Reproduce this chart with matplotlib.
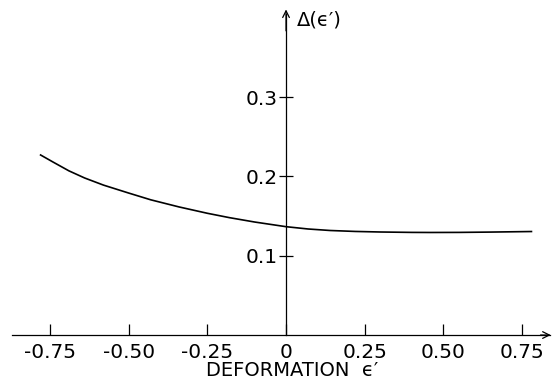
import numpy as np
import matplotlib.pyplot as plt

# curve
eps = [-0.78, -0.74, -0.69, -0.64, -0.58, -0.50, -0.43, -0.34, -0.25, -0.18,
       -0.10, 0.0, 0.07, 0.14, 0.22, 0.30, 0.40, 0.46, 0.55, 0.65, 0.78]
delta = [0.227, 0.218, 0.207, 0.198, 0.189, 0.179, 0.1705, 0.1615, 0.1535, 0.148,
         0.1425, 0.1366, 0.1337, 0.1318, 0.1306, 0.1299, 0.1294, 0.1293, 0.1294, 0.1298, 0.1305]

xticks = [-0.75, -0.50, -0.25, 0, 0.25, 0.50, 0.75]
xticklabels = ['-0.75', '-0.50', '-0.25', '0', '0.25', '0.50', '0.75']
yticks = [0.1, 0.2, 0.3]
yticklabels = ['0.1', '0.2', '0.3']

plt.rcParams['font.family'] = ['DejaVu Sans']

fig = plt.figure(figsize=(5.56, 3.85), dpi=100)
ax = fig.add_axes([0, 0, 1, 1])
ax.set_xlim(-0.909, 0.858)
ax.set_ylim(-0.063, 0.4224)

ax.plot(eps, delta, color='black', lw=1.2, solid_joinstyle='round')

# axes through the origin
for s in ['top', 'right']:
	ax.spines[s].set_visible(False)
ax.spines['bottom'].set_position('zero')
ax.spines['left'].set_position('zero')
ax.spines['bottom'].set_bounds(-0.871, 0.84)
ax.spines['left'].set_bounds(0, 0.405)
ax.spines['bottom'].set_linewidth(0.9)
ax.spines['left'].set_linewidth(0.9)
ax.annotate('', xy=(0.85, 0), xytext=(0.80, 0),
	arrowprops=dict(arrowstyle='->', lw=0.9, color='black', mutation_scale=12))
ax.annotate('', xy=(0, 0.414), xytext=(0, 0.38),
	arrowprops=dict(arrowstyle='->', lw=0.9, color='black', mutation_scale=12))

ax.set_xticks(xticks)
ax.set_xticklabels(xticklabels)
ax.set_yticks(yticks)
ax.set_yticklabels(yticklabels)
ax.tick_params(axis='x', direction='in', length=8, width=0.9, pad=6, labelsize=14.5)
ax.tick_params(axis='y', direction='inout', length=10, width=0.9, pad=1, labelsize=14.5)

ax.text(0.035, 0.397, 'Δ(ϵ′)', fontsize=14, ha='left', va='center')
ax.text(0.02, -0.045, 'DEFORMATION  ϵ′', fontsize=14, ha='center', va='center')

plt.savefig('out.png', dpi=100)
